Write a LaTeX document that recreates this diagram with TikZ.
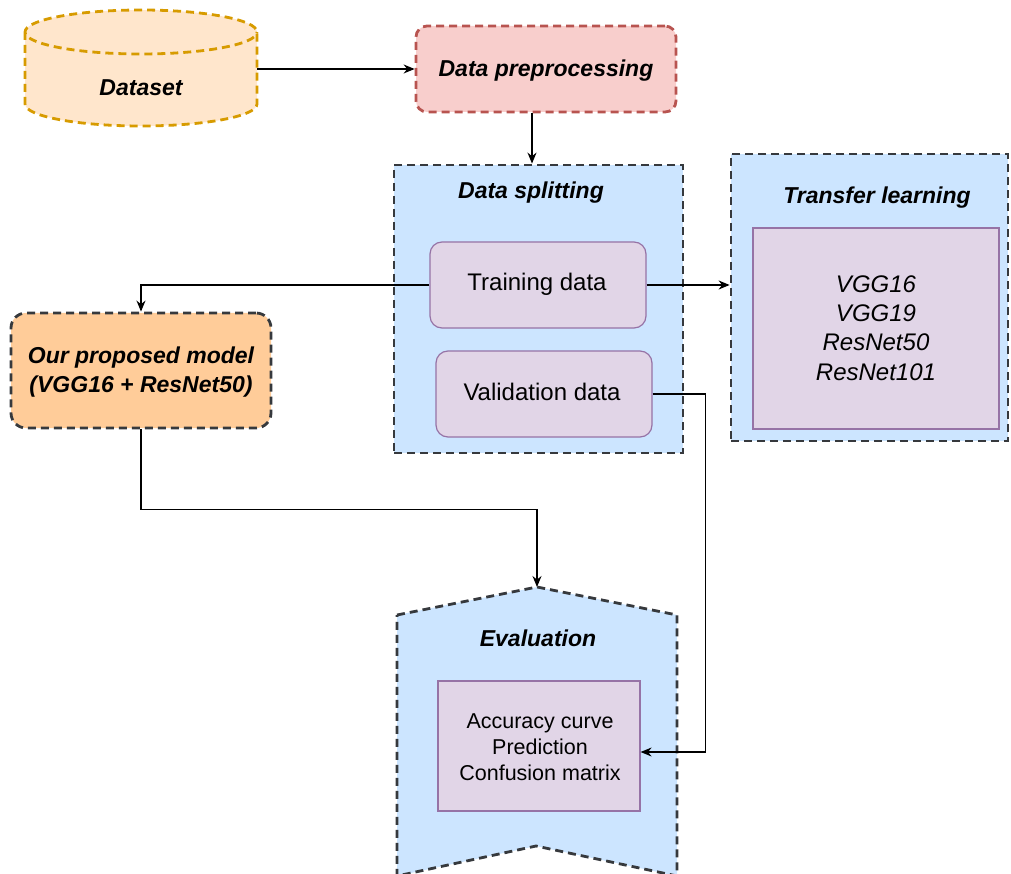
\documentclass[tikz,border=0pt]{standalone}
\usepackage{fontspec}
\setmainfont{Liberation Sans}
\usetikzlibrary{arrows.meta}
\definecolor{dsfill}{HTML}{FFE6CC}
\definecolor{dsline}{HTML}{D79B00}
\definecolor{prefill}{HTML}{F8CECC}
\definecolor{preline}{HTML}{B85450}
\definecolor{bluefill}{HTML}{CCE5FF}
\definecolor{dgray}{HTML}{36393D}
\definecolor{pfill}{HTML}{E1D5E7}
\definecolor{pline}{HTML}{9673A6}
\definecolor{ofill}{HTML}{FFCC99}
\tikzset{
  dashbox/.style={line width=2.8pt, dash pattern=on 8pt off 5pt},
  innerbox/.style={draw=pline, fill=pfill, line width=1.2pt, inner sep=0pt},
  arr/.style={-{Stealth[length=11pt,width=9pt]}, line width=1.4pt},
  ttl/.style={font=\fontsize{23}{28}\selectfont\bfseries\itshape, inner sep=0pt},
  body/.style={font=\fontsize{24}{29}\selectfont, inner sep=0pt, align=center},
  small/.style={font=\fontsize{21.5}{25.8}\selectfont, inner sep=0pt, align=center},
}
\begin{document}
\begin{tikzpicture}[x=1pt,y=-1pt]
\useasboundingbox (0,0) rectangle (1011,874);
% Dataset cylinder
\path[fill=dsfill] (25,32) -- (25,104)
  .. controls (25,116.15) and (76.9,126) .. (141,126)
  .. controls (205.1,126) and (257,116.15) .. (257,104) -- (257,32)
  .. controls (257,19.85) and (205.1,10) .. (141,10)
  .. controls (76.9,10) and (25,19.85) .. (25,32) -- cycle;
\draw[draw=dsline, dashbox] (25,32) -- (25,104)
  .. controls (25,116.15) and (76.9,126) .. (141,126)
  .. controls (205.1,126) and (257,116.15) .. (257,104) -- (257,32)
  .. controls (257,19.85) and (205.1,10) .. (141,10)
  .. controls (76.9,10) and (25,19.85) .. (25,32)
  .. controls (25,44.15) and (76.9,54) .. (141,54)
  .. controls (205.1,54) and (257,44.15) .. (257,32);
\node[minimum width=232pt, minimum height=116pt, inner sep=0pt] (cyl) at (141,68) {};
\node[ttl] (dstext) at (141,88) {Dataset};
% Data preprocessing
\node[draw=preline, fill=prefill, dashbox, rounded corners=11pt, minimum width=260pt, minimum height=86pt, inner sep=0pt] (pre) at (546,69) {};
\node[ttl] (pretext) at (546,71) {Data preprocessing};
% Data splitting
\node[draw=dgray, fill=bluefill, dashbox, minimum width=289pt, minimum height=288pt, inner sep=0pt] (split) at (538.5,309) {};
\node[ttl] (splittext) at (531,193) {Data splitting};
\node[innerbox, rounded corners=12pt, minimum width=216pt, minimum height=86pt] (train) at (538,285) {};
\node[body] (traintext) at (537,284) {Training data};
\node[innerbox, rounded corners=12pt, minimum width=216pt, minimum height=86pt] (val) at (544,394) {};
\node[body] (valtext) at (542,392) {Validation data};
% Transfer learning
\node[draw=dgray, fill=bluefill, dashbox, minimum width=277pt, minimum height=287pt, inner sep=0pt] (tl) at (869.5,297.5) {};
\node[ttl] (tltext) at (877,198) {Transfer learning};
\node[innerbox, minimum width=246pt, minimum height=201pt] (tlin) at (876,328.5) {};
\node[body, font=\fontsize{24}{29.3}\selectfont\itshape] (tllist) at (876,328) {VGG16\\VGG19\\ResNet50\\ResNet101};
% Proposed model
\node[draw=dgray, fill=ofill, dashbox, rounded corners=15pt, minimum width=260pt, minimum height=115pt, inner sep=0pt] (prop) at (141,370.5) {};
\node[ttl, align=center, font=\fontsize{23}{28.5}\selectfont\bfseries\itshape] (proptext) at (141,372) {Our proposed model\\(VGG16 + ResNet50)};
% Evaluation
\path[fill=bluefill] (397,615) -- (537,587) -- (677,615) -- (677,876) -- (536,846) -- (397,876) -- cycle;
\draw[draw=dgray, dashbox] (397,615) -- (537,587) -- (677,615) -- (677,876) -- (536,846) -- (397,876) -- cycle;
\coordinate (evtop) at (537,587);
\node[ttl] (evtext) at (538,638) {Evaluation};
\node[innerbox, minimum width=202pt, minimum height=130pt] (evin) at (539,746) {};
\node[small] (evlist) at (540,747) {Accuracy curve\\Prediction\\Confusion matrix};
% Connectors
\draw[arr] (cyl.east |- pre.west) -- (pre.west);
\draw[arr] ([xshift=-14pt]pre.south) -- ([xshift=-14pt]pre.south |- split.north);
\draw[arr] (train.east) -- (tl.west |- train.east);
\draw[arr] (train.west) -| (prop.north);
\draw[arr] (prop.south) -- ++(0,80) -| (evtop);
\draw[arr] (val.east) -- ++(53,0) |- ([yshift=-6pt]evin.east);
\end{tikzpicture}
\end{document}
